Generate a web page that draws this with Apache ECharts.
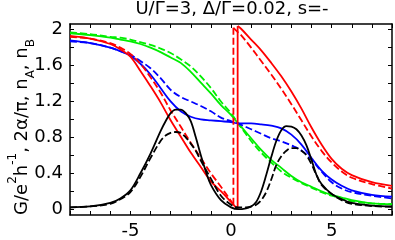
<!DOCTYPE html>
<html>
<head>
<meta charset="utf-8">
<script src="https://cdn.jsdelivr.net/npm/echarts@6/dist/echarts.min.js"></script>
<style>html,body{margin:0;padding:0;background:#fff}#c{width:395px;height:240px}</style>
</head>
<body>
<div id="c"></div>
<script>
// shared x grid for blue and green curves
const xs = [-8,-7,-6,-5.5,-5,-4.5,-4,-3.5,-3,-2.5,-2,-1.5,-1,-0.5,0,0.35,0.5,1,1.5,2,2.5,3,3.5,4,4.5,5,5.5,6,7,8];
const blueSolid = [1.88,1.85,1.80,1.76,1.71,1.62,1.50,1.35,1.20,1.09,1.03,1.00,0.99,0.98,0.97,0.955,0.955,0.955,0.945,0.93,0.90,0.83,0.72,0.57,0.43,0.33,0.26,0.21,0.16,0.14];
const blueDash  = [1.87,1.85,1.80,1.76,1.72,1.65,1.57,1.46,1.33,1.25,1.20,1.15,1.09,1.02,0.98,0.955,0.94,0.89,0.84,0.79,0.755,0.71,0.655,0.55,0.42,0.30,0.23,0.19,0.15,0.12];
const greenSolid = [1.96,1.94,1.91,1.89,1.87,1.84,1.80,1.75,1.69,1.63,1.53,1.41,1.29,1.16,1.05,0.955,0.92,0.79,0.66,0.55,0.46,0.37,0.30,0.25,0.20,0.16,0.13,0.10,0.065,0.055];
const greenDash  = [1.97,1.95,1.92,1.91,1.89,1.86,1.83,1.79,1.74,1.67,1.59,1.48,1.35,1.20,1.07,0.955,0.91,0.76,0.63,0.52,0.42,0.35,0.29,0.24,0.19,0.15,0.12,0.09,0.065,0.055];

// red curves (repeated x = vertical jump)
const redSolidX = [-8,-7,-6,-5.5,-5,-4.5,-4,-3.5,-3,-2.5,-2,-1.5,-1,-0.5,0,0.33,0.33,0.5,1,1.5,2,2.5,3,3.5,4,4.5,5,5.5,6,7,8];
const redSolidY = [1.93,1.90,1.84,1.78,1.70,1.54,1.37,1.19,0.99,0.81,0.63,0.47,0.31,0.20,0.08,0.00,2.04,2.01,1.89,1.77,1.63,1.48,1.31,1.12,0.91,0.72,0.56,0.45,0.38,0.30,0.26];
const redDashX = [-8,-7,-6,-5.5,-5,-4.5,-4,-3.5,-3,-2.5,-2,-1.5,-1,-0.5,0,0.12,0.12,0.35,0.5,1,1.5,2,2.5,3,3.5,4,4.5,5,5.5,6,7,8];
const redDashY = [1.92,1.90,1.85,1.80,1.73,1.62,1.47,1.30,1.10,0.92,0.74,0.57,0.40,0.25,0.09,0.05,2.02,1.97,1.94,1.80,1.65,1.50,1.34,1.17,0.99,0.81,0.65,0.52,0.42,0.35,0.28,0.23];

// black curves
const blackX = [-8,-7,-6,-5.5,-5,-4.5,-4,-3.5,-3.25,-3,-2.75,-2.5,-2.25,-2,-1.75,-1.5,-1.25,-1,-0.5,0,0.36,0.75,1,1.25,1.5,1.75,2,2.25,2.5,2.75,3,3.25,3.5,3.75,4,4.25,4.5,5,5.5,6,7,8];
const blackSolid = [0.02,0.03,0.07,0.12,0.21,0.40,0.62,0.87,0.98,1.07,1.11,1.11,1.07,0.98,0.80,0.60,0.42,0.27,0.10,0.02,0.00,0.01,0.03,0.08,0.20,0.38,0.58,0.76,0.88,0.925,0.92,0.89,0.82,0.71,0.55,0.38,0.28,0.17,0.11,0.07,0.04,0.03];
const blackDash  = [0.02,0.03,0.06,0.11,0.19,0.36,0.57,0.76,0.82,0.85,0.86,0.85,0.80,0.73,0.65,0.54,0.44,0.34,0.15,0.05,0.02,0.02,0.03,0.05,0.10,0.19,0.33,0.49,0.59,0.65,0.68,0.68,0.65,0.60,0.50,0.38,0.27,0.17,0.10,0.06,0.035,0.025];

// axis ticks / labels
const xTickVals = [-8,-7,-6,-5,-4,-3,-2,-1,0,1,2,3,4,5,6,7,8];
const xLabelVals = [-5,0,5];
const yTickVals = [0,0.2,0.4,0.6,0.8,1,1.2,1.4,1.6,1.8,2];
const yLabelVals = [0,0.4,0.8,1.2,1.6,2];

const titleText = 'U/Γ=3, Δ/Γ=0.02, s=-';
const yNameText = '{b|G/e}{sup|2}{b|h}{sup|-1}{b|, 2α/π, n}{sub|A}{b|, n}{sub|B}';

const FONT = 'DejaVu Sans';

function makeSeries(xArr, yArr, color, dashed) {
  const pts = xArr.map((x, i) => [x, yArr[i]]);
  let j = -1;
  for (let i = 1; i < xArr.length; i++) if (xArr[i] === xArr[i - 1]) j = i;
  const base = {
    type: 'line', symbol: 'none', showSymbol: false, smooth: 0.35, animation: false,
    lineStyle: { color: color, width: 1.8, type: dashed ? [7, 3] : 'solid' },
    itemStyle: { color: color }
  };
  if (j < 0) return [Object.assign({}, base, { data: pts })];
  return [
    Object.assign({}, base, { data: pts.slice(0, j) }),
    Object.assign({}, base, { smooth: false, data: pts.slice(j - 1, j + 1) }),
    Object.assign({}, base, { data: pts.slice(j) })
  ];
}

const GREEN = '#00ee00', BLUE = '#0000ff', RED = '#ff0000', BLACK = '#000000';
const series = [].concat(
  makeSeries(xs, greenSolid, GREEN, false),
  makeSeries(xs, greenDash, GREEN, true),
  makeSeries(xs, blueSolid, BLUE, false),
  makeSeries(xs, blueDash, BLUE, true),
  makeSeries(redSolidX, redSolidY, RED, false),
  makeSeries(redDashX, redDashY, RED, true),
  makeSeries(blackX, blackSolid, BLACK, false),
  makeSeries(blackX, blackDash, BLACK, true)
);

const axisLineStyle = { show: true, onZero: false, lineStyle: { color: '#000', width: 1.5 } };
const tickStyle = { show: true, inside: true, length: 4, lineStyle: { color: '#000', width: 1 } };
const labelFont = { color: '#000', fontFamily: FONT, fontSize: 18 };

const chart = echarts.init(document.getElementById('c'), null, { renderer: 'canvas' });
chart.setOption({
  animation: false,
  backgroundColor: '#fff',
  grid: { left: 70, right: 3, top: 24, bottom: 18 },
  xAxis: [
    { type: 'value', min: -8, max: 8, position: 'bottom',
      axisLine: axisLineStyle,
      axisTick: Object.assign({}, tickStyle, { customValues: xTickVals }),
      axisLabel: Object.assign({}, labelFont, { margin: 7, customValues: xLabelVals }),
      splitLine: { show: false } },
    { type: 'value', min: -8, max: 8, position: 'top',
      axisLine: axisLineStyle,
      axisTick: Object.assign({}, tickStyle, { customValues: xTickVals }),
      axisLabel: { show: false },
      splitLine: { show: false } }
  ],
  yAxis: [
    { type: 'value', min: -0.065, max: 2.063, position: 'left',
      axisLine: axisLineStyle,
      axisTick: Object.assign({}, tickStyle, { customValues: yTickVals }),
      axisLabel: Object.assign({}, labelFont, { margin: 7, customValues: yLabelVals }),
      splitLine: { show: false } },
    { type: 'value', min: -0.065, max: 2.063, position: 'right',
      axisLine: axisLineStyle,
      axisTick: Object.assign({}, tickStyle, { customValues: yTickVals }),
      axisLabel: { show: false },
      splitLine: { show: false } }
  ],
  graphic: [
    { type: 'text', x: 232, y: 9, z: 10,
      style: { text: titleText, fill: '#000', font: '18px ' + FONT, align: 'center', verticalAlign: 'middle' } },
    { type: 'text', x: 22, y: 127, rotation: Math.PI / 2, z: 10,
      style: { text: yNameText, fill: '#000', font: '18px ' + FONT, align: 'center', verticalAlign: 'middle',
        rich: {
          b: { fontSize: 18, fontFamily: FONT, lineHeight: 30, verticalAlign: 'middle', fill: '#000' },
          sup: { fontSize: 12, fontFamily: FONT, verticalAlign: 'top', lineHeight: 14, fill: '#000' },
          sub: { fontSize: 12, fontFamily: FONT, verticalAlign: 'bottom', lineHeight: 16, fill: '#000' }
        } } }
  ],
  series: series
});
</script>
</body>
</html>
